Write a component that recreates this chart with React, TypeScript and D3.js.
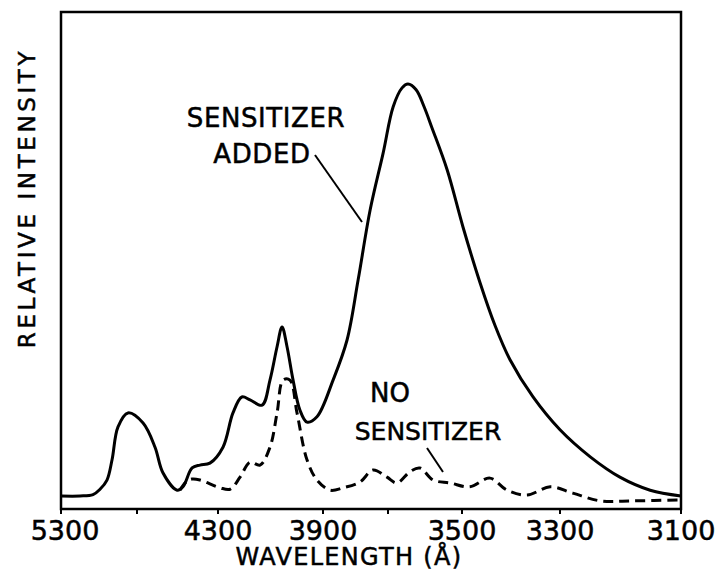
import React from "react";
import * as d3 from "d3";

// Wavelength axis (Å) – tick values and labels
const TICK_VALUES = [5300, 4700, 4300, 3900, 3700, 3500, 3300, 3100];
const TICK_LABELS = ["5300", "", "4300", "3900", "", "3500", "3300", "3100"];

// "SENSITIZER ADDED" (solid)
const ADDED_WL = [5300, 5150, 5047, 4992, 4937, 4897, 4850, 4771, 4670, 4611, 4572, 4502, 4473, 4428, 4389, 4340, 4281, 4243, 4209, 4178, 4132, 4102, 4075, 4056, 4037, 4014, 3988, 3961, 3923, 3869, 3826, 3792, 3755, 3715, 3686, 3662, 3646, 3624, 3603, 3581, 3540, 3498, 3463, 3433, 3402, 3355, 3300, 3250, 3201, 3151, 3100];
const ADDED_I = [0, 0, 0.3, 1.4, 3.3, 7.5, 14.3, 17.2, 15.1, 10.1, 4.8, 1.2, 1.9, 5.8, 6.4, 6.8, 10.1, 17.2, 20.5, 19.9, 18.8, 24.0, 30.9, 35.0, 30.9, 24.0, 17.8, 15.3, 16.4, 24.0, 32.3, 44.7, 59.2, 71.0, 80.6, 84.5, 85.3, 84.1, 80.7, 76.2, 67.5, 55.7, 44.1, 35.4, 28.2, 20.5, 13.7, 8.1, 3.9, 1.2, 0];

// "NO SENSITIZER" (dashed)
const NONE_WL = [4488, 4458, 4428, 4389, 4292, 4254, 4216, 4178, 4140, 4102, 4075, 4052, 4026, 3999, 3961, 3923, 3878, 3838, 3786, 3746, 3703, 3676, 3641, 3614, 3578, 3532, 3484, 3443, 3408, 3367, 3320, 3279, 3234, 3179, 3100];
const NONE_I = [1.2, 2.9, 3.5, 3.3, 1.7, 1.4, 3.9, 7.0, 6.4, 10.1, 17.2, 24.0, 24.0, 17.2, 7.5, 3.3, 1.2, 1.7, 2.9, 5.4, 3.9, 2.7, 5.0, 5.8, 3.3, 2.7, 1.9, 3.7, 1.2, 0.2, 1.9, 0.6, -1.0, -1.0, -0.8];

const W = 715;
const H = 572;
const LEFT = 61;
const RIGHT = 681;
const TOP = 12;
const BOTTOM = 509;

export default function App() {
  // spectrograph (prism) dispersion: non-linear wavelength scale, piecewise through the tick marks
  const x = d3
    .scaleLinear()
    .domain(TICK_VALUES)
    .range([LEFT, 137, 218, 323, 388, 462, 560, RIGHT]);
  const y = d3.scaleLinear().domain([0, 85.3]).range([496, 84]);

  const line = d3
    .line<[number, number]>()
    .x((d) => x(d[0]))
    .y((d) => y(d[1]))
    .curve(d3.curveCatmullRom.alpha(0.5));

  const added = ADDED_WL.map((w, i) => [w, ADDED_I[i]] as [number, number]);
  const none = NONE_WL.map((w, i) => [w, NONE_I[i]] as [number, number]);

  const font = "'DejaVu Sans', sans-serif";
  const txt = { fontFamily: font, fill: "#000", stroke: "#000", strokeWidth: 0.5 };

  return (
    <svg
      width={W}
      height={H}
      style={{ position: "absolute", left: 0, top: 0, background: "#fff" }}
    >
      <rect x={0} y={0} width={W} height={H} fill="#fff" />
      {/* frame */}
      <rect
        x={LEFT}
        y={TOP}
        width={RIGHT - LEFT}
        height={BOTTOM - TOP}
        fill="none"
        stroke="#000"
        strokeWidth={2.5}
      />
      {/* ticks */}
      {TICK_VALUES.map((t, i) => (
        <g key={t}>
          <line x1={x(t)} x2={x(t)} y1={BOTTOM} y2={BOTTOM + 5} stroke="#000" strokeWidth={2} />
          {TICK_LABELS[i] && (
            <text
              x={x(t) + (i === 0 ? 4 : 0)}
              y={540}
              textAnchor="middle"
              fontSize={27}
              {...txt}
            >
              {TICK_LABELS[i]}
            </text>
          )}
        </g>
      ))}
      {/* curves */}
      <path d={line(added) || ""} fill="none" stroke="#000" strokeWidth={3} strokeLinejoin="round" />
      <path
        d={line(none) || ""}
        fill="none"
        stroke="#000"
        strokeWidth={3}
        strokeDasharray="10,6"
      />
      {/* labels */}
      <text x={266} y={127} textAnchor="middle" fontSize={26} letterSpacing={0.6} {...txt}>
        SENSITIZER
      </text>
      <text x={262} y={163} textAnchor="middle" fontSize={26} letterSpacing={0.6} {...txt}>
        ADDED
      </text>
      <line x1={315} y1={155} x2={362} y2={222} stroke="#000" strokeWidth={2} />
      <text x={390} y={402} textAnchor="middle" fontSize={26} {...txt}>
        NO
      </text>
      <text x={428} y={440} textAnchor="middle" fontSize={25} {...txt}>
        SENSITIZER
      </text>
      <line x1={427} y1={448} x2={443} y2={472} stroke="#000" strokeWidth={2} />
      {/* axis titles */}
      <text
        transform={`translate(35,198) rotate(-90)`}
        textAnchor="middle"
        fontSize={23}
        letterSpacing={3.6}
        {...txt}
      >
        RELATIVE INTENSITY
      </text>
      <text x={349} y={565} textAnchor="middle" fontSize={24} letterSpacing={1.3} {...txt}>
        WAVELENGTH (Å)
      </text>
    </svg>
  );
}
